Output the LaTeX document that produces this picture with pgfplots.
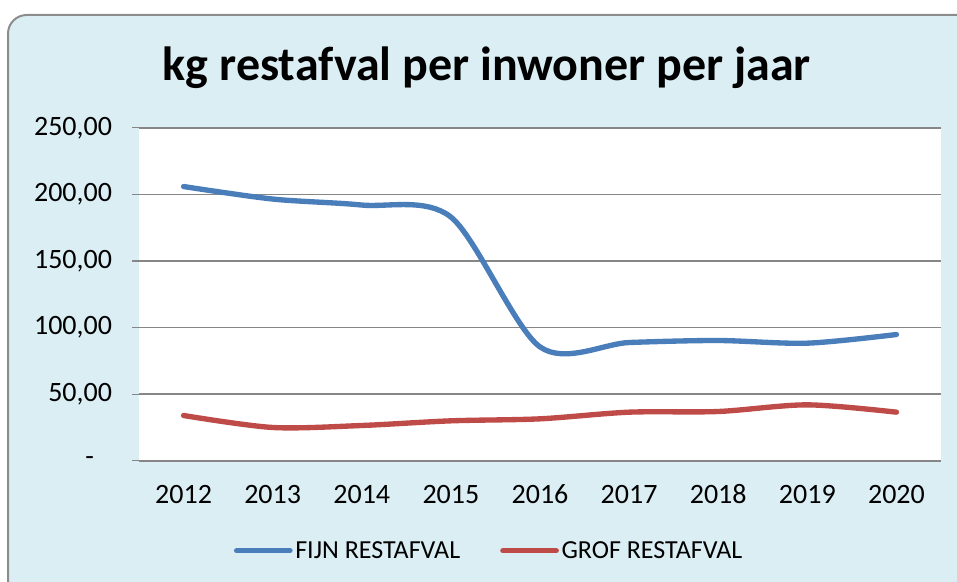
\documentclass[border=0pt]{standalone}
\usepackage{pgfplots}
\pgfplotsset{compat=1.18}
\usepackage{fontspec}
\setmainfont{Carlito}
\definecolor{bgblue}{HTML}{DBEEF4}
\definecolor{frame}{HTML}{8C8C8C}
\definecolor{gridc}{HTML}{868686}
\definecolor{fijn}{HTML}{4A7EBB}
\definecolor{grof}{HTML}{BE4B48}
\begin{document}
\begin{tikzpicture}[x=0.75pt,y=0.75pt]
\path[use as bounding box] (0,0) rectangle (957,582);
\begin{scope}
\clip (0,0) rectangle (957,582);
\draw[frame, line width=1.5pt, fill=bgblue, rounded corners=14pt] (8,567) rectangle (990,-30);
\end{scope}
\node[font=\fontsize{36}{42}\selectfont\bfseries] at (487,514) {kg restafval per inwoner per jaar};
\begin{axis}[
  at={(156,91)}, anchor=south west,
  scale only axis, width=601.5pt, height=249.75pt,
  xmin=-0.5, xmax=8.5, ymin=0, ymax=250,
  xtick={0,...,8},
  xticklabels={2012,2013,2014,2015,2016,2017,2018,2019,2020},
  ytick={0,50,...,250},
  yticklabels={\makebox[0.95em][l]{-},{50,00},{100,00},{150,00},{200,00},{250,00}},
  axis x line=bottom, axis y line=left,
  x axis line style={gridc, line width=1.5pt, -},
  y axis line style={draw=none},
  xtick style={draw=none},
  ytick style={gridc, line width=1pt},
  tick align=outside, major tick length=5pt,
  ymajorgrids, grid style={gridc, line width=1.2pt},
  axis background/.style={fill=white},
  /pgf/number format/assume math mode=true,
  ticklabel style={font=\fontsize{21}{25}\selectfont},
  yticklabel style={xshift=-11.7pt},
  xticklabel style={yshift=-9.5pt},
  legend columns=2,
  legend style={at={(axis description cs:0.437,-0.270)}, anchor=center, draw=none, fill=none,
    font=\fontsize{19.5}{23}\selectfont, /tikz/every even column/.append style={column sep=28pt}},
  legend image code/.code={\draw[#1, line cap=round] (0pt,0pt) -- (40pt,0pt);},
]
\addplot[fijn, line width=4pt, smooth, tension=0.5, line cap=round] coordinates {
(0,205.9) (1,196.5) (2,192) (3,183) (4,85.5) (5,88.8) (6,90.3) (7,88.3) (8,94.8)};
\addlegendentry{FIJN RESTAFVAL}
\addplot[grof, line width=4pt, smooth, tension=0.5, line cap=round] coordinates {
(0,34) (1,25) (2,26.5) (3,30) (4,31.5) (5,36.5) (6,37) (7,42) (8,36.5)};
\addlegendentry{GROF RESTAFVAL}
\end{axis}
\end{tikzpicture}
\end{document}
